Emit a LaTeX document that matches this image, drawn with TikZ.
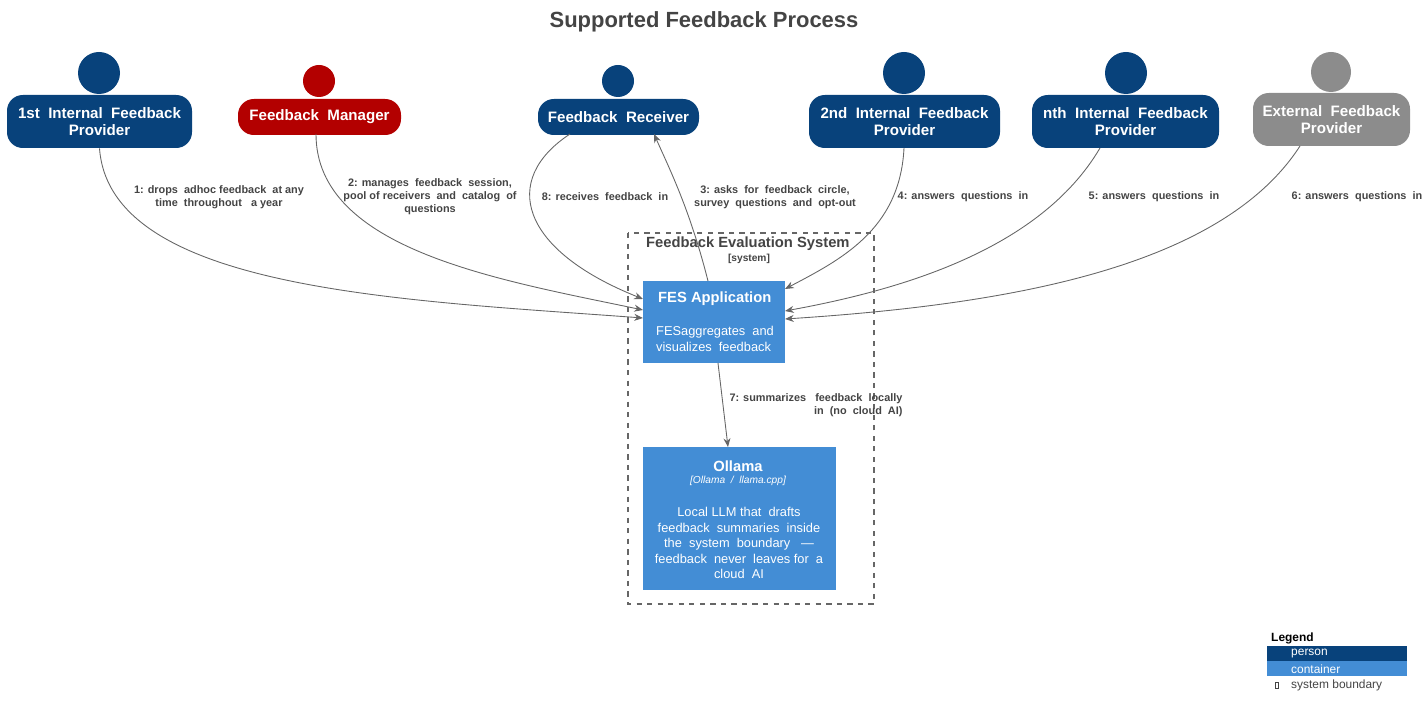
\documentclass[tikz,border=0pt]{standalone}
\usepackage{fontspec}
\setmainfont{Liberation Sans}
\usetikzlibrary{arrows.meta}
\definecolor{personblue}{HTML}{08427B}
\definecolor{managerred}{HTML}{B30000}
\definecolor{extgray}{HTML}{8C8C8C}
\definecolor{contblue}{HTML}{438DD5}
\definecolor{linegray}{HTML}{666666}
\definecolor{textgray}{HTML}{444444}
\tikzset{
  person/.style={rounded corners=9pt, text=white, font=\fontsize{8.6}{9.8}\selectfont\bfseries, align=center, inner sep=0pt},
  head/.style={circle, inner sep=0pt},
  container/.style={fill=contblue, text=white, align=center, inner sep=0pt},
  rel/.style={draw=linegray, line width=0.5pt, -{Stealth[length=5pt,width=4pt]}},
  rellabel/.style={text=textgray, font=\fontsize{6.2}{7.5}\selectfont\bfseries, align=center}
}
\begin{document}
\begin{tikzpicture}[x=0.02cm, y=-0.02cm]
\useasboundingbox (0,0) rectangle (1428,716);
% title
\node[text=textgray, font=\fontsize{12.5}{14}\selectfont\bfseries] (title) at (704,22) {Supported Feedback Process};
% persons
\node[head, fill=personblue, minimum size=42*0.02cm] (p1head) at (99,73) {};
\node[person, fill=personblue, minimum width=185*0.02cm, minimum height=53*0.02cm] (p1) at (99.5,121.5) {1st \ Internal \ Feedback\\Provider};
\node[head, fill=managerred, minimum size=32*0.02cm] (mgrhead) at (319,81) {};
\node[person, fill=managerred, minimum width=163*0.02cm, minimum height=36*0.02cm] (mgr) at (319.5,117) {Feedback \ Manager};
\node[head, fill=personblue, minimum size=32*0.02cm] (rcvhead) at (618,81) {};
\node[person, fill=personblue, minimum width=161*0.02cm, minimum height=36*0.02cm] (rcv) at (618.5,117) {Feedback \ Receiver};
\node[head, fill=personblue, minimum size=42*0.02cm] (p2head) at (904,73) {};
\node[person, fill=personblue, minimum width=191*0.02cm, minimum height=53*0.02cm] (p2) at (904.5,121.5) {2nd \ Internal \ Feedback\\Provider};
\node[head, fill=personblue, minimum size=42*0.02cm] (pnhead) at (1126,73) {};
\node[person, fill=personblue, minimum width=187*0.02cm, minimum height=53*0.02cm] (pn) at (1125.5,121.5) {nth \ Internal \ Feedback\\Provider};
\node[head, fill=extgray, minimum size=40*0.02cm] (exthead) at (1331,72) {};
\node[person, fill=extgray, minimum width=157*0.02cm, minimum height=53*0.02cm] (ext) at (1331.5,119.5) {External \ Feedback\\Provider};
% system boundary
\draw[linegray, dashed, line width=0.6pt] (628,233) rectangle (874,604);
\node[text=textgray, font=\fontsize{8.4}{9.5}\selectfont\bfseries, anchor=west] (fesname) at (640,244) {Feedback Evaluation System};
\node[text=textgray, font=\fontsize{5.8}{7}\selectfont\bfseries] (festype) at (749,259) {[system]};
% containers
\node[container, minimum width=142*0.02cm, minimum height=82*0.02cm] (app) at (714,322) {};
\node[text=white, font=\fontsize{8.4}{9.5}\selectfont\bfseries, anchor=west] (apptitle) at (652,299) {FES Application};
\node[text=white, font=\fontsize{7.3}{8.8}\selectfont, align=left, anchor=west] (appdesc) at (650,339) {FESaggregates \ and\\visualizes \ feedback};
\node[container, minimum width=193*0.02cm, minimum height=143*0.02cm] (llm) at (739.5,518.5) {};
\node[text=white, font=\fontsize{8.4}{9.5}\selectfont\bfseries] (llmtitle) at (738,466) {Ollama};
\node[text=white, font=\fontsize{5.8}{7}\selectfont\itshape] (llmtech) at (738,481) {[Ollama \ / \ llama.cpp]};
\node[text=white, font=\fontsize{7.3}{8.8}\selectfont, align=center] (llmdesc) at (739,543) {Local LLM that \ drafts\\feedback \ summaries \ inside\\the \ system \ boundary \ \ ---\\feedback \ never \ leaves for \ a\\cloud \ AI};
% relations
\draw[rel] (p1.south) .. controls (110,290) and (400,300) .. (643,318);
\draw[rel] (316,134) .. controls (316,250) and (500,280) .. (643,310);
\draw[rel] (570,134) .. controls (500,180) and (520,250) .. (643,299);
\draw[rel] (708,281) .. controls (690,210) and (670,170) .. (654,134);
\draw[rel] (904,148) .. controls (900,230) and (840,260) .. (785,289);
\draw[rel] (1100,148) .. controls (1040,250) and (900,290) .. (785,311);
\draw[rel] (1300,146) .. controls (1220,270) and (1000,305) .. (785,319);
\draw[rel] (718,363) -- (728,447);
% labels
\node[rellabel] (l1) at (219,197) {1: drops \ adhoc feedback \ at any\\time \ throughout \ \ a year};
\node[rellabel] (l2) at (430,197) {2: manages \ feedback \ session,\\pool of receivers \ and \ catalog \ of\\questions};
\node[rellabel] (l8) at (605,197) {8: receives \ feedback \ in};
\node[rellabel] (l3) at (775,197) {3: asks \ for \ feedback \ circle,\\survey \ questions \ and \ opt-out};
\node[rellabel] (l4) at (963,197) {4: answers \ questions \ in};
\node[rellabel] (l5) at (1154,197) {5: answers \ questions \ in};
\node[rellabel] (l6) at (1357,197) {6: answers \ questions \ in};
\node[rellabel, align=right] (l7) at (816,405) {7: summarizes \ \ feedback \ locally\\in \ (no \ cloud \ AI)};
% legend
\node[font=\fontsize{6.8}{8}\selectfont\bfseries, anchor=west] (legtitle) at (1265,638) {Legend};
\fill[personblue] (1267,646) rectangle (1407,661);
\node[text=white, font=\fontsize{6.8}{8}\selectfont, anchor=west] (legperson) at (1285,654) {person};
\fill[contblue] (1267,661) rectangle (1407,676);
\node[text=white, font=\fontsize{6.8}{8}\selectfont, anchor=west] (legcont) at (1285,669) {container};
\draw[textgray, line width=0.3pt] (1275,682) rectangle (1278,688);
\node[text=textgray, font=\fontsize{6.8}{8}\selectfont, anchor=west] (legsys) at (1285,685) {system boundary};
\end{tikzpicture}
\end{document}
